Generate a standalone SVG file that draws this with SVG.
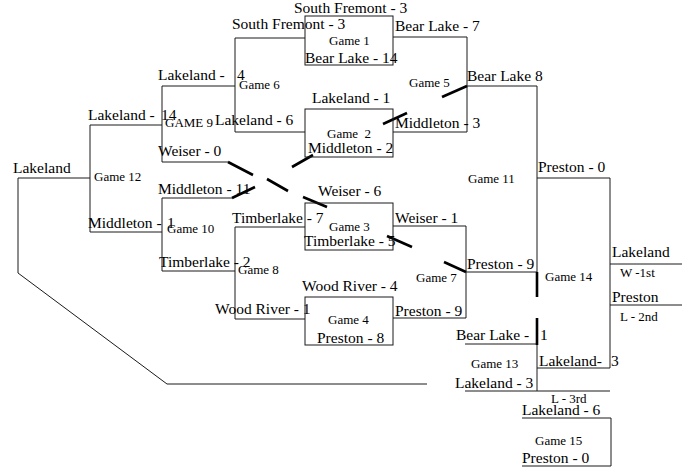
<svg xmlns="http://www.w3.org/2000/svg" width="687" height="470" viewBox="0 0 687 470">
<style>
text{font-family:"Liberation Serif","Times New Roman",serif;fill:#000}
.t{font-size:15.5px}
.g{font-size:13px}
.ln{fill:none;stroke:#1a1a1a;stroke-width:1}
.hv{fill:none;stroke:#000;stroke-width:2.6}
</style>
<rect width="687" height="470" fill="#fff"/>
<g id="connectors">
<path class="ln" d="M305,38 H235 V132 H305"/>
<path class="ln" d="M235,86 H162 V162 H228"/>
<path class="ln" d="M162,125 H90 V232 H162"/>
<path class="ln" d="M232,198 H162 V271 H235"/>
<path class="ln" d="M305,227 H235 V319 H305"/>
<path class="ln" d="M393,37 H467 V132 H393 M467,86 H537"/>
<path class="ln" d="M393,226 H466 V318 H393 M466,272 H537"/>
<path class="ln" d="M537,86 V297"/>
<path class="ln" d="M537,178 H610 V368 H537"/>
<path class="ln" d="M537,318 V391 M465,344 H537 M465,391 H610"/>
<path class="ln" d="M610,264 H682 M610,305 H682"/>
<path class="ln" d="M522,418 H611 V466 H522"/>
<path class="ln" d="M90,178 H18 V273 L167,384 H427"/>
<path class="hv" d="M228,162 L253,175 M267,179 L288,191 M303,197 L327,207"/>
<path class="hv" d="M292,167 L313,155 M232,198 L255,187"/>
<path class="hv" d="M383,124 L407,113"/>
<path class="hv" d="M442,97 L467,86"/>
<path class="hv" d="M387,236 L412,247"/>
<path class="hv" d="M444,262 L466,272"/>
<path class="hv" d="M537,272 V297 M537,318 V345"/>
</g>
<g id="game1">
<rect class="ln" x="305" y="16" width="88" height="49"/>
<text class="t" x="294" y="13">South Fremont - 3</text>
<text class="t" x="232" y="29">South Fremont - 3</text>
<text class="g" x="329" y="45">Game 1</text>
<text class="t" x="305" y="63">Bear Lake - 14</text>
</g>
<g id="game2">
<rect class="ln" x="305" y="109" width="88" height="48"/>
<text class="t" x="312" y="103">Lakeland - 1</text>
<text class="g" x="327" y="138" xml:space="preserve">Game  2</text>
<text class="t" x="308" y="153">Middleton - 2</text>
</g>
<g id="game3">
<rect class="ln" x="305" y="203" width="88" height="47"/>
<text class="t" x="318" y="196">Weiser - 6</text>
<text class="g" x="329" y="231">Game 3</text>
<text class="t" x="304" y="246">Timberlake - 5</text>
</g>
<g id="game4">
<rect class="ln" x="305" y="297" width="88" height="48"/>
<text class="t" x="302" y="291">Wood River - 4</text>
<text class="g" x="328" y="324">Game 4</text>
<text class="t" x="317" y="343">Preston - 8</text>
</g>
<g id="game5">
<text class="t" x="395" y="31">Bear Lake - 7</text>
<text class="g" x="409" y="87">Game 5</text>
<text class="t" x="395" y="128">Middleton - 3</text>
<text class="t" x="467" y="81">Bear Lake 8</text>
</g>
<g id="game6">
<text class="t" x="158" y="80">Lakeland - <tspan x="237">4</tspan></text>
<text class="g" x="239" y="89">Game 6</text>
<text class="t" x="215" y="125">Lakeland - 6</text>
</g>
<g id="game9">
<text class="g" x="165" y="127">GAME 9</text>
<text class="t" x="158" y="156">Weiser - 0</text>
<text class="t" x="88" y="120">Lakeland - <tspan x="161">14</tspan></text>
</g>
<g id="game10">
<text class="t" x="158" y="194">Middleton - 11</text>
<text class="g" x="167" y="233">Game 10</text>
<text class="t" x="159" y="267">Timberlake - 2</text>
</g>
<g id="game8">
<text class="t" x="232" y="223">Timberlake - 7</text>
<text class="g" x="238" y="274">Game 8</text>
<text class="t" x="215" y="314">Wood River - 1</text>
</g>
<g id="game12">
<text class="t" x="13" y="173">Lakeland</text>
<text class="g" x="94" y="181">Game 12</text>
<text class="t" x="88" y="228">Middleton - <tspan x="167">1</tspan></text>
</g>
<g id="game7">
<text class="t" x="395" y="223">Weiser - 1</text>
<text class="g" x="416" y="282">Game 7</text>
<text class="t" x="395" y="316">Preston - 9</text>
<text class="t" x="467" y="269">Preston - 9</text>
</g>
<g id="game11">
<text class="g" x="468" y="183">Game 11</text>
<text class="t" x="538" y="172">Preston - 0</text>
</g>
<g id="game14">
<text class="g" x="545" y="281">Game 14</text>
<text class="t" x="612" y="257">Lakeland</text>
<text class="g" x="620" y="277">W -1st</text>
<text class="t" x="612" y="302">Preston</text>
<text class="g" x="620" y="321">L - 2nd</text>
</g>
<g id="game13">
<text class="t" x="456" y="340">Bear Lake - <tspan x="540">1</tspan></text>
<text class="g" x="471" y="368">Game 13</text>
<text class="t" x="455" y="388">Lakeland - 3</text>
<text class="t" x="539" y="366">Lakeland- <tspan x="611">3</tspan></text>
<text class="g" x="551" y="403">L - 3rd</text>
</g>
<g id="game15">
<text class="t" x="522" y="415">Lakeland - 6</text>
<text class="g" x="535" y="445">Game 15</text>
<text class="t" x="522" y="463">Preston - 0</text>
</g>
</svg>
